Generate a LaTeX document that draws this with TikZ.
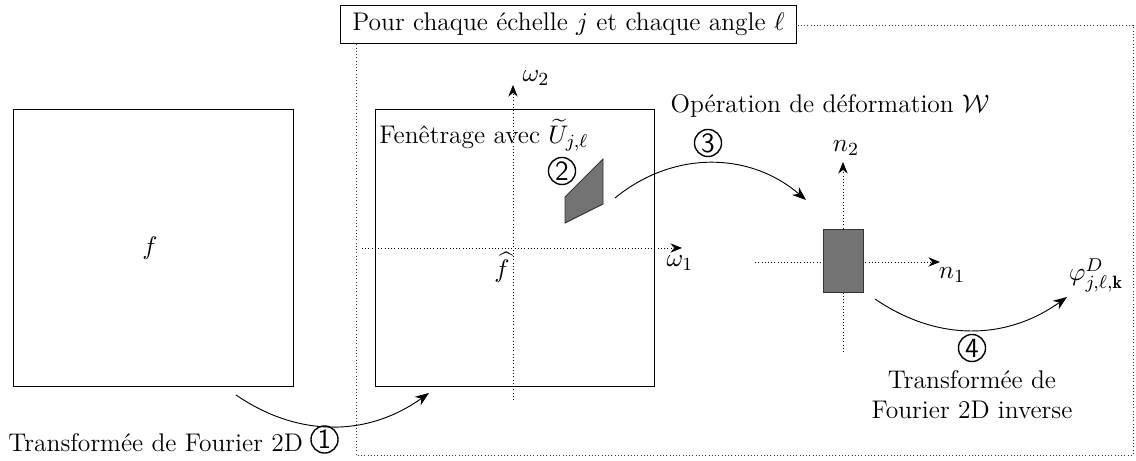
\documentclass[tikz,border=0pt]{standalone}
\usepackage{amsmath}
\usepackage{fontspec}
\usepackage{tikz}
\usetikzlibrary{arrows.meta,positioning}
\tikzset{
  axis/.style={densely dotted,-{Stealth[length=5pt,width=4pt]}},
  flow/.style={-{Stealth[length=6pt,width=4.5pt]}},
  panel/.style={draw,minimum width=4.23cm,minimum height=4.21cm,inner sep=0pt},
  support/.style={draw=black!80,fill=black!55},
  stepnum/.style={circle,draw,line width=0.6pt,inner sep=0pt,minimum size=0.41cm,font=\sffamily\fontsize{12}{12}\selectfont}
}

\begin{document}
\begin{tikzpicture}[x=0.1515cm,y=0.1515cm,font=\fontsize{11}{13}\selectfont]
  \useasboundingbox (0,0) rectangle (113.6,46.1);
  \draw[densely dotted,black!80] (35.6,43.6) rectangle (113.3,0.6);
  \node[draw,fill=white,minimum height=0.53cm,inner xsep=5pt] (title) at (56.85,43.65) {Pour chaque échelle $j$ et chaque angle $\ell$};
  \node[panel] (spatial) at (15.35,21.3) {};
  \node (f) at (15.0,21.3) {$f$};
  \node[panel] (freq) at (51.5,21.3) {};
  \coordinate (w1) at (68.2,21.3);
  \coordinate (w2) at (51.3,37.6);
  \draw[axis] (36.2,21.3) -- (w1);
  \draw[axis] (51.3,6.1) -- (w2);
  \node (w1lab) at (68.0,19.8) {$\omega_1$};
  \node (w2lab) at (53.6,38.3) {$\omega_2$};
  \node (fhat) at (50.2,19.4) {$\widehat{f}$};
  \node[anchor=west,inner sep=0pt] (window) at (37.9,32.6) {Fenêtrage avec $\widetilde{U}_{j,\ell}$};
  \node[stepnum] (two) at (56.2,29.0) {2};
  \draw[support] (56.5,26.4) -- (60.3,30.2) -- (60.3,25.7) -- (56.5,23.8) -- cycle;
  \coordinate (n1) at (94.0,19.9);
  \coordinate (n2) at (84.3,29.9);
  \draw[axis] (75.5,19.9) -- (n1);
  \draw[axis] (84.3,10.9) -- (n2);
  \node (n1lab) at (95.2,18.6) {$n_1$};
  \node (n2lab) at (84.6,31.3) {$n_2$};
  \draw[support] (82.3,23.2) rectangle (86.3,16.9);
  \node (phi) at (109.6,18.6) {$\varphi^D_{j,\ell,\mathbf{k}}$};
  \coordinate (a1) at (23.6,6.6);
  \coordinate (b1) at (42.9,6.8);
  \coordinate (a3) at (61.5,26.3);
  \coordinate (b3) at (80.6,26.1);
  \coordinate (a4) at (87.5,16.2);
  \coordinate (b4) at (106.7,16.4);
  \draw[flow] (a1) to[bend right=35] (b1);
  \draw[flow] (a3) to[bend left=40] (b3);
  \draw[flow] (a4) to[bend right=35] (b4);
  \node[stepnum] (three) at (70.8,31.8) {3};
  \node (warp) at (83.0,35.5) {Opération de déformation $\mathcal{W}$};
  \node[stepnum] (four) at (97.2,11.3) {4};
  \node[align=center] (ifft) at (97.2,6.6) {Transformée de\\Fourier 2D inverse};
  \node[anchor=west,inner sep=0pt] (fft) at (0.8,1.8) {Transformée de Fourier 2D};
  \node[stepnum,right=3pt of fft,yshift=1.5pt] (one) {1};
\end{tikzpicture}
\end{document}
